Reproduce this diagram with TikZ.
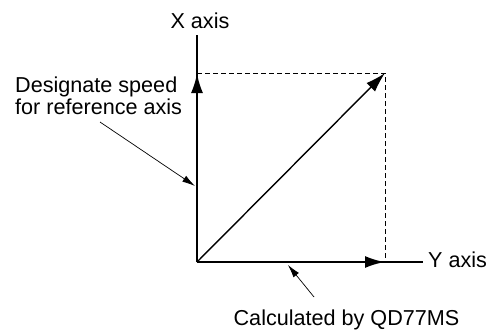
\documentclass[tikz,border=0pt]{standalone}
\usepackage{fontspec}
\setmainfont{Liberation Sans}
\usetikzlibrary{arrows.meta}
\begin{document}
\begin{tikzpicture}[x=1pt,y=-1pt,
  lbl/.style={font=\fontsize{21.6}{22}\selectfont, inner sep=0pt},
  axisline/.style={line width=2.6pt},
  bigtip/.style={-{Latex[length=20pt,width=12pt]}},
  leader/.style={line width=0.7pt,-{Latex[length=13pt,width=7pt]}},
  guide/.style={line width=0.8pt,dash pattern=on 5pt off 3pt}]
\useasboundingbox (0,0) rectangle (502,329);
\coordinate (O) at (197,262);
\coordinate (Xend) at (197,35);
\coordinate (Xtip) at (197,73);
\coordinate (Yend) at (423,262);
\coordinate (Ytip) at (385,262);
\coordinate (P) at (385,73);
% dashed guides
\draw[guide] (Xtip) -- (P) -- (Ytip);
% axes
\draw[axisline] (O) -- (Xend);
\draw[axisline] (O) -- (Yend);
\draw[axisline,bigtip] (O) -- (Xtip);
\draw[axisline,bigtip] (O) -- (Ytip);
% resultant
\draw[line width=1.4pt,bigtip] (O) -- (P);
% labels
\node[lbl,anchor=base] (xl) at (200,29) {X axis};
\node[lbl,anchor=base west] (yl) at (428,267) {Y axis};
\node[lbl,anchor=base west] (des1) at (15,92) {Designate speed};
\node[lbl,anchor=base west] (des2) at (15,114) {for reference axis};
\node[lbl,anchor=base] (calc) at (346.5,325) {Calculated by QD77MS};
\coordinate (d1) at (100,122);
\coordinate (d2) at (195,186);
\coordinate (c1) at (314,297);
\coordinate (c2) at (288,265);
\draw[leader] (d1) -- (d2);
\draw[leader] (c1) -- (c2);
\end{tikzpicture}
\end{document}
